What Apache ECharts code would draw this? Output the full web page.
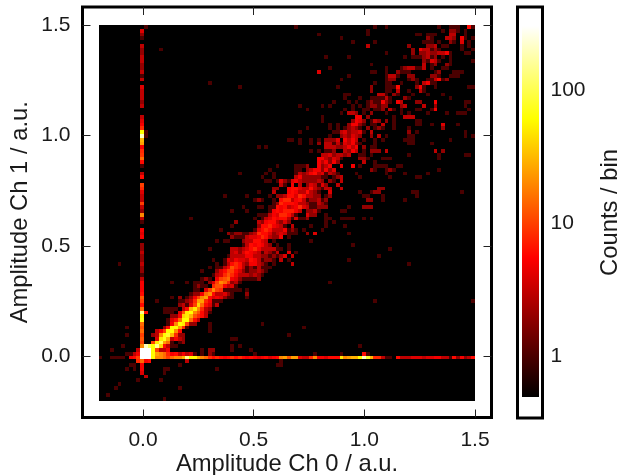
<!DOCTYPE html>
<html><head><meta charset="utf-8">
<style>html,body{margin:0;padding:0;background:#fff}#c{width:620px;height:475px}</style>
<script src="https://cdn.jsdelivr.net/npm/echarts@6/dist/echarts.min.js"></script>
</head><body><div id="c"></div>
<script>
// axes
const xTicks = [0, 0.5, 1, 1.5];
const yTicks = [0, 0.5, 1, 1.5];
const colorTicks = [1, 10, 100];
const colorRange = [0.5, 300];
const heatExtent = [-0.2, 1.5];
const binWidth = 0.017;
// counts of the horizontal ridge (row 11), from column 14 up
const hLineCounts = [60,20,20,15,10,15,20,20,30,150,60,60,30,20,15,8,6,8,6,5,6,8,6,8,6,5,6,5,4,5,6,4,5,6,
20,25,12,25,25,4,3,3,8,20,5,5,4,6,6,6,50,20,25,30,30,60,200,80,30,8,8,3,1,1,0,6,3,3,3,4,4,4,3,4,4,5,5,3,3,1,6,2,5,2,3,6];
// counts of the vertical ridge (column 11), from row 14 up
const vLineCounts = [20,10,12,10,15,12,15,70,60,150,15,6,10,12,6,5,5,5,3,1,2,2,3,2,2,3,2,2,0,5,4,5,0,1,3,20,2,3,10,3,3,4,8,10,0,6,3,0,1,6,15,9,8,5,25,30,200,60,8,5,4,3,0,0,3,2,3,3,3,4,0,3,1,3,2,2,3,3,2,2,3,0,1,2,4,0];
// [row, startColumn, counts...]
const lowRuns = [
[0,17,1],[1,2,1],[3,4,1],[3,21,1],[4,5,1],[5,10,1],[5,16,1],[6,12,3],[7,11,4],[7,17,1],
[8,7,1],[8,9,1],[8,11,5],[8,17,1,1],[8,31,1],[9,8,1,1],[9,11,5],[9,21,1],[9,47,1,1],
[10,10,8,15,5,6],[10,23,3],[10,48,1],
[11,0,1],[11,3,1,1,1,1],[11,8,5,6,10,300,300,300],
[12,7,1,1,3,5,300,300,300,60,25,20,15,8,5,6,3,5,3,4,1],[12,27,1],[12,29,2,1],[12,41,1],[12,57,1],[12,64,1],[12,70,6,1],
[13,3,1],[13,10,3,300,300,300,60,10,3,3,5],[13,27,1],[13,29,2,2],[13,35,1],[13,40,1],
[14,6,1],[14,12,200,100,60,150,40,6,3,1,1],[14,35,1],[14,37,1],[14,69,1],
[15,14,10,50,100,25,15,1],[15,21,1,2],
[16,15,4,50,70,30,3,5,3,2],[16,35,1,1],
[17,7,1],[17,14,2,3,20,60,80,30,8,2,2],[17,50,1],
[18,15,3,5,10,60,60,20,6],[18,29,1],
[19,7,1],[19,17,2,6,60,60,25,8,1],[19,29,1],[19,54,1],
[20,18,1,5,20,60,50,10,2,2],[20,29,1],[20,43,1],
[21,18,1,4,6,15,60,60,15,6,3],
[22,19,2,2,5,40,50,30,12,8,6,3],
[23,12,6],[23,17,1,1,1,0,4,12,50,60,20,12,6,3,1],
[24,17,1,1,1,1,0,3,6,30,50,20,8,3,2],
[25,21,2,3,1,4,10,40,15,6,4,1,3]
];
const midRuns = [
[26,15,1],[26,21,1,1,2,3,8,25,25,8,5,1,1,1],[26,73,1],[26,99,1],
[27,19,1],[27,21,2,0,1,2,5,10,20,25,6,4,5,4,2,1,1],[27,39,1],
[28,24,1,2,2,5,15,20,6,3,3,4,2,1],[28,39,2],
[29,25,1,1,0,4,10,20,10,8,1,1,1,1,1],[29,39,1],
[30,25,1,2,1,1,0,8,12,12,5,3,4,1],
[31,19,1],[31,23,1],[31,25,1,1,1,0,2,4,10,20,15,8,2,3,1],[31,61,1],
[32,27,1,2,1,0,5,10,12,15,5,4,2,1,1,1,1,2],
[33,30,1,3,4,8,12,8,5,3,3,3,2,3,2,1],
[34,27,1],[34,31,2,4,6,10,10,6,4,2,1,2,2,3,2,1],
[35,29,1],[35,31,1,1,3,5,12,8,6,3,1,2,1,3,1,1,1],
[36,5,1],[36,31,1,0,1,3,6,8,6,3,2,5,5,3,2,1],[36,46,1],[36,51,3],[36,82,1],
[37,30,1],[37,33,1,4,3,5,4,4,3,6,5,3,1,2,2,1],[37,48,3],[37,50,1],[37,66,1],
[38,34,1,3,3,3,3,5,5,3,3,2,2,1,2,1],[38,48,2,4],[38,51,3],[38,74,1],
[39,35,3,4,2,4,6,5,4,3,1,3,2,1,3],[39,50,4],[39,52,1],
[40,29,1],[40,35,3,3,2,3,4,6,8,5,3,3,3,3,1,1],[40,50,1],[40,77,1],
[41,38,1,3,6,5,6,5,3,2],[41,47,1],[41,50,1],[41,67,1],
[42,31,1],[42,33,1,1],[42,38,2,3,3,6,6,4,3],[42,46,1],[42,56,1],
[43,35,2,1,1,1,3,4,4,5,8,6,3,2,2,5],[43,50,1],
[44,34,2,1,2,2,1,1,2,3,8,6,6,4,2,3,4,3,1,1,1],[44,55,2],[44,57,4],[44,66,1],
[45,32,1],[45,41,1,4,6,8,6,3,3,3,5,1,2,1],[45,54,1],[45,59,1],
[46,35,1],[46,42,2,6,6,8,5,4,3,1,0,3],[46,56,1],[46,60,1],[46,65,1],
[47,36,2],[47,42,3,2,5,6,6,3,2,4,2],[47,60,1],[47,62,1],
[48,24,1],[48,41,1],[48,43,1,3,4,6,5,6,6,3,1,4,1,1,2],[48,60,1,1],[48,64,1,1,1,1],[48,70,1],[48,72,1],
[49,42,1,1,1,3,5,4,8,8,6,3,1],[49,55,4,2,2],[49,60,1],
[50,35,1],[50,39,1],[50,45,1,5,6,5,7,7,7,5,3],[50,55,2,2,3,1],[50,64,1,1]
];
const highRuns = [
[51,38,1],[51,42,1,1,0,1,1,6,5,6,3,4,5,8,4,3,1,1,2,2,2],[51,66,1],[51,70,2,2,2],
[52,46,1,2,8,6,6,6,5,3,3,2,1,1,3,2,1],
[53,41,1,2,1,0,0,1,0,6,8,8,3,5,6,3,1,2,2,3,1,2],[53,71,2,2],[53,75,1],[53,81,1],
[54,33,1],[54,39,1],[54,45,1,0,2,2,3,6,6,4,8,6,3,3,2,2,0,1,2],[54,70,1,1],[54,75,1],[54,84,1],
[55,42,1],[55,46,3],[55,50,5,6,5,3,3,6,3,2,1,0,0,4],[55,69,1],[55,72,1,2,2],[55,83,1,1],[55,96,1],
[56,46,2,2],[56,50,5,6,6,4,3,3,6,3,2,1,3,3,0,0,3],[56,74,2,2],
[57,48,3,1,0,5,0,3,0,2,4,3,1,4,2,0,0,3],
[58,44,1,1,0,1,4,2,1,4,5,3,2,2,2,2,3,2,0,2,1,0,3],
[59,43,1],[59,46,1],[59,52,3,5,2,2,2,2,2,1,1,0,1,2,3],[59,69,1],[59,77,1],[59,84,1,1],
[60,37,1],[60,44,1],[60,46,1],[60,52,1,3,2,3,5,6,3,4,1,3,2,1],[60,68,1],[60,76,1],[60,81,1],[60,87,1],
[61,45,1],[61,52,1,1,0,2,3,5,5,2,5,2,4],[61,72,2,1],[61,76,1,2,1],[61,90,1],
[62,47,1],[62,52,1,1,1,2,0,0,5,2,3,5,0,0,4],[62,67,5,0,1],[62,73,1,1,1,1],[62,79,1,1],
[63,58,5,3,5,2,5,2],[63,70,3],[63,73,1],
[64,58,5,5,3,2,4,3,1],[64,69,2,2,1],[64,75,1,1,1],[64,90,1],
[65,59,3,3,4,2,3,3,2,3],[65,69,1,1],[65,72,1],[65,82,1],[65,90,1],[65,97,1,1],
[66,56,1],[66,58,1],[66,60,1,1,2],[66,65,3,2,5,3],[66,70,1],[66,72,2,2,2],[66,76,3],[66,89,3],[66,91,2],
[67,42,1],[67,44,1],[67,60,3,3,3,2,2,3,5,3,5],[67,70,2],[67,72,1,1],
[68,53,1],[68,56,1],[68,58,2],[68,60,3,3,1,3,1,4,3,5,2,1],[68,73,1],[68,82,1,1],[68,88,1],
[69,50,1,1],[69,53,1],[69,56,1],[69,58,1],[69,60,2,2,2,4],[69,65,5,3,5,3],[69,70,1],[69,73,1],[69,75,1],[69,81,1,1,1],[69,93,1],
[70,12,1],[70,61,1],[70,64,2,3,2,4,3,2],[70,72,2],[70,74,3],[70,76,1],[70,82,1,1],[70,97,1],[70,99,1],
[71,12,1],[71,53,1],[71,62,1,1,3,4,2,3,3,4,1],[71,72,3],[71,82,2],[71,84,1],[71,97,1],
[72,55,1],[72,61,1],[72,63,1],[72,65,1,2,3,2,1],[72,71,2],[72,73,1,2,1],[72,78,1],[72,82,1],[72,91,2],
[73,61,1],[73,63,1],[73,66,2,5,5,2,1],[73,72,1,1],[73,75,3],[73,78,1],[73,84,1,1],[73,88,1],[73,91,4],[73,95,1],
[74,59,1],[74,67,2,5,4,2],[74,72,1,3,2],[74,76,2],[74,78,1],[74,84,1,1],
[75,59,1],[75,68,5,5],[75,71,2],[75,78,1],[75,81,3,3,3]
];
const topRuns = [
[76,64,1],[76,66,3,3,2],[76,70,1],[76,72,2],[76,76,1],[76,80,1],[76,82,1],[76,87,1],[76,92,1],[76,95,1,1,1],
[77,55,1],[77,65,1],[77,67,1],[77,70,1,1],[77,73,1,1,2],[77,77,3,1],[77,80,1],[77,84,1,1],[77,88,1],[77,89,5],[77,98,1],
[78,53,1],[78,59,1],[78,61,1],[78,67,1],[78,69,1],[78,71,1,2,2,1,2,2],[78,80,2,3],[78,86,3],[78,89,2],[78,97,1],
[79,62,1],[79,66,1],[79,68,1],[79,71,1,2,1,1,5,2,1],[79,79,5,3],[79,84,2,2],[79,89,5],[79,97,1,1],
[80,65,1],[80,69,1],[80,72,1,1,1,1,3,1],[80,81,2,1],[80,93,1],
[81,65,1,1],[81,74,3,3,1],[81,78,2,1],[81,83,1],[81,87,1],[81,91,1],
[82,72,2],[82,76,1,1],[82,79,3],[82,82,1],[82,85,3,1],
[83,37,1],[83,63,1],[83,72,2],[83,76,1,1,1,6],[83,84,2,5,1],[83,89,1],[83,98,1,1],
[84,29,1],[84,73,1],[84,76,1,1],[84,80,1],[84,84,1],[84,86,3,5,1,1],
[85,64,1],[85,76,1,2,2],[85,82,1,2,1],[85,87,1,1,3,6,1,2],
[86,66,1],[86,76,1,3,3,1],[86,82,2,2],[86,88,2,2,1],[86,93,1,1,1],
[87,58,4],[87,72,1,1],[87,76,1],[87,79,2,1,1,1],[87,89,1,2],[87,94,1,1,1],
[88,61,1],[88,76,1],[88,80,1,2,3,3,1,1,3],[88,88,1],[88,91,1,1],
[89,72,1],[89,86,3],[89,88,1,2],[89,92,2,1],
[90,86,2,1,4,3,1],[90,93,1],[90,99,1],
[91,60,1],[91,66,1],[91,81,1],[91,83,1,1,1,2,3,1,2],[91,91,1],[91,93,1],
[92,76,1],[92,83,2],[92,85,2,2,3,2,2,3,3,5,1],[92,97,1,1],
[93,16,1],[93,83,2],[93,85,5,3,3,1,2,1],[93,96,1],[93,99,1],
[94,71,3],[94,82,2],[94,87,2,2,3],[94,91,1,1],[94,96,1],[94,98,1],
[95,67,1],[95,73,1],[95,86,1,1,1],[95,90,1],[95,93,2,1],[95,96,4],[95,98,1],
[96,64,1],[96,87,2,1],[96,92,3,3,2],[96,96,5,1],[96,99,1],
[97,58,1],[97,71,1],[97,84,1,1],[97,87,1,1,1],[97,93,3,3],[97,97,1],
[98,71,1],[98,91,1],[98,93,2,2,1],[98,97,1],
[99,12,1],[99,52,1],[99,73,1],[99,76,1],[99,90,1],[99,93,1,1,1],[99,98,6,1]
];

const toX = c => heatExtent[0] + c * binWidth;
const cells = [];
function addCell(col, row, n) { if (n > 0) cells.push([toX(col), toX(row), n]); }
hLineCounts.forEach((n, i) => addCell(14 + i, 11, n));
vLineCounts.forEach((n, i) => addCell(11, 14 + i, n));
[lowRuns, midRuns, highRuns, topRuns].forEach(list => list.forEach(run => {
  run.slice(2).forEach((n, i) => addCell(run[1] + i, run[0], n));
}));

// the colour scale: black-red-yellow-white on a log count axis
const hotStops = [[0, [0,0,0]], [0.375, [255,0,0]], [0.75, [255,255,0]], [1, [255,255,255]]];
function hot(n) {
  const t = Math.min(1, (Math.log(n) - Math.log(colorRange[0])) / (Math.log(colorRange[1]) - Math.log(colorRange[0])));
  for (let i = 1; i < hotStops.length; i++) {
    if (t <= hotStops[i][0]) {
      const a = hotStops[i-1], b = hotStops[i], f = (t - a[0]) / (b[0] - a[0]);
      return 'rgb(' + a[1].map((v, k) => Math.round(v + (b[1][k] - v) * f)).join(',') + ')';
    }
  }
  return '#fff';
}
const font = 'Liberation Sans';
function rect(api, x0, y0, x1, y1, fill) {
  const p = api.coord([x0, y0]), q = api.coord([x1, y1]);
  const l = Math.round(p[0]), r = Math.round(q[0]), t = Math.round(q[1]), b = Math.round(p[1]);
  return { type: 'rect', shape: { x: l, y: t, width: r - l, height: b - t }, style: { fill: fill } };
}
const chart = echarts.init(document.getElementById('c'), null, { renderer: 'canvas' });
const tickStyle = { show: true, lineStyle: { color: '#222', width: 1 }, length: 8, inside: true };
const noLine = { show: false, onZero: false };
const lab = { color: '#1a1a1a', fontFamily: font, fontSize: 21 };
chart.setOption({
  animation: false,
  backgroundColor: '#fff',
  grid: [
    { left: 82.5, top: 7, width: 409, height: 410.5, show: true, borderColor: '#000', borderWidth: 3, outerBoundsMode: 'none' },
    { left: 517.5, top: 7, width: 25, height: 411, show: true, borderColor: '#000', borderWidth: 3, outerBoundsMode: 'none' }
  ],
  xAxis: [
    { gridIndex: 0, type: 'value', position: 'bottom', min: -0.2733, max: 1.5746, splitLine: { show: false }, axisLine: noLine,
      axisTick: { ...tickStyle, customValues: xTicks }, 
      axisLabel: { ...lab, margin: 12, customValues: xTicks, formatter: v => v.toFixed(1) },
      name: 'Amplitude Ch 0 / a.u.', nameLocation: 'middle', nameGap: 35, nameMoveOverlap: false, nameTextStyle: { ...lab, fontSize: 23.8 } },
    { gridIndex: 0, type: 'value', position: 'top', min: -0.2733, max: 1.5746, splitLine: { show: false }, axisLine: noLine,
      axisTick: { ...tickStyle, customValues: xTicks }, axisLabel: { show: false } },
    { gridIndex: 1, type: 'value', min: 0, max: 1, splitLine: { show: false }, axisLine: noLine, axisTick: { show: false }, axisLabel: { show: false } }
  ],
  yAxis: [
    { gridIndex: 0, type: 'value', position: 'left', min: -0.2755, max: 1.5816, splitLine: { show: false }, axisLine: noLine,
      axisTick: { ...tickStyle, customValues: yTicks },
      axisLabel: { ...lab, margin: 12, customValues: yTicks, formatter: v => v.toFixed(1) },
      name: 'Amplitude Ch 1 / a.u.', nameLocation: 'middle', nameGap: 50, nameMoveOverlap: false, nameTextStyle: { ...lab, fontSize: 23.8 } },
    { gridIndex: 0, type: 'value', position: 'right', min: -0.2755, max: 1.5816, splitLine: { show: false }, axisLine: noLine,
      axisTick: { ...tickStyle, customValues: yTicks }, axisLabel: { show: false } },
    { gridIndex: 1, type: 'log', position: 'right', logBase: 10, min: 0.347, max: 418, splitLine: { show: false }, axisLine: noLine,
      axisTick: { show: false },
      axisLabel: { ...lab, margin: 8, customValues: colorTicks, formatter: v => String(Math.round(v)) },
      name: 'Counts / bin', nameLocation: 'middle', nameGap: 56, nameMoveOverlap: false, nameRotate: 90, nameTextStyle: { ...lab, fontSize: 23.8 } }
  ],
  series: [
    { type: 'custom', xAxisIndex: 0, yAxisIndex: 0, z: 1, silent: true, data: [[heatExtent[0], heatExtent[0], heatExtent[1], heatExtent[1]]],
      renderItem: (p, api) => rect(api, api.value(0), api.value(1), api.value(2), api.value(3), '#000') },
    { type: 'custom', xAxisIndex: 0, yAxisIndex: 0, z: 2, silent: true, data: cells, encode: { x: 0, y: 1 },
      renderItem: (p, api) => rect(api, api.value(0), api.value(1), api.value(0) + binWidth, api.value(1) + binWidth, hot(api.value(2))) },
    { type: 'custom', xAxisIndex: 2, yAxisIndex: 2, z: 2, silent: true, data: [[0.16, colorRange[0], 0.84, colorRange[1]]],
      renderItem: (p, api) => rect(api, api.value(0), api.value(1), api.value(2), api.value(3),
        new echarts.graphic.LinearGradient(0, 1, 0, 0, hotStops.map(s => ({ offset: s[0], color: 'rgb(' + s[1].join(',') + ')' })))) }
  ]
});
</script></body></html>
